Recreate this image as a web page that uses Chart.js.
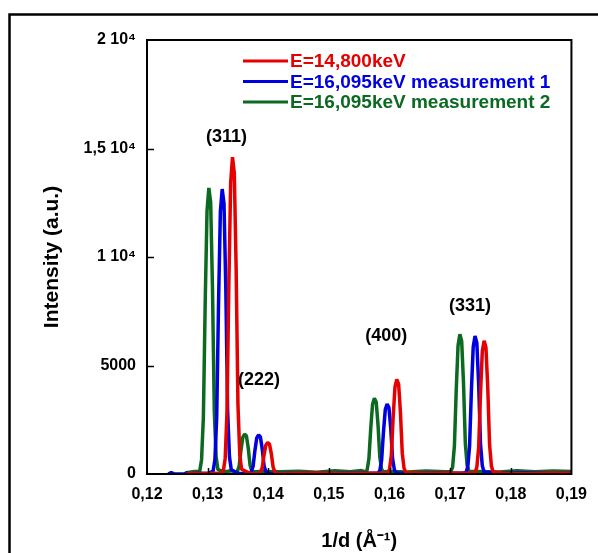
<!DOCTYPE html>
<html>
<head>
<meta charset="utf-8">
<script src="https://cdn.jsdelivr.net/npm/chart.js@4.4.1/dist/chart.umd.min.js"></script>
<style>
    body { margin: 0; background: #ffffff; }
    #box { width: 598px; height: 553px; }
</style>
</head>
<body>
<div id="box"><canvas id="grafico" width="598" height="553"></canvas></div>
<script>
const legendLabels = ["E=14,800keV", "E=16,095keV measurement 1", "E=16,095keV measurement 2"];
const seriesColors = ["#e60000", "#0000e0", "#0b6a20"];

const xTickLabels = ["0,12", "0,13", "0,14", "0,15", "0,16", "0,17", "0,18", "0,19"];
const yTickLabels = ["0", "5000", "1 10\u2074", "1,5 10\u2074", "2 10\u2074"];

const annoLabels = ["(311)", "(222)", "(400)", "(331)"];
const annoX = [0.1331, 0.13847, 0.15947, 0.17326];
const annoY = [15530, 4330, 6336, 7760];

const redX = [0.1265, 0.1272, 0.1290, 0.1310, 0.1320,
    0.1326, 0.1329, 0.1332, 0.1335, 0.1338, 0.1341, 0.1344, 0.1347, 0.1350, 0.1353, 0.1356,
    0.1370, 0.1378,
    0.1384, 0.1387, 0.1390, 0.1393, 0.1396, 0.1399, 0.1402, 0.1405, 0.1408, 0.1411, 0.1414,
    0.1440, 0.1480, 0.1520, 0.1560, 0.1590,
    0.1597, 0.1600, 0.1603, 0.1606, 0.1609, 0.1612, 0.1615, 0.1618, 0.1621, 0.1624, 0.1627,
    0.1660, 0.1700, 0.1730,
    0.1741, 0.1744, 0.1747, 0.1750, 0.1753, 0.1756, 0.1759, 0.1762, 0.1765, 0.1768, 0.1771,
    0.1790, 0.1830, 0.1870, 0.1900];
const redY = [0, 40, 20, 40, 20,
    146, 730, 2920, 8760, 13430, 14600, 13870, 9490, 3210, 880, 220,
    30, 20,
    15, 73, 290, 870, 1330, 1450, 1380, 940, 320, 87, 22,
    30, 50, 20, 40, 30,
    44, 218, 870, 2620, 4010, 4360, 4140, 2830, 960, 260, 65,
    30, 50, 30,
    61, 307, 1230, 3680, 5650, 6140, 5830, 3990, 1350, 370, 92,
    40, 20, 50, 30];

const blueX = [0.1235, 0.1240, 0.1245, 0.1262, 0.1265, 0.1268, 0.1285, 0.1300,
    0.1309, 0.1312, 0.1315, 0.1318, 0.1321, 0.1324, 0.1327, 0.1330, 0.1333, 0.1336, 0.1339,
    0.1350, 0.1362,
    0.1369, 0.1372, 0.1375, 0.1378, 0.1381, 0.1384, 0.1387, 0.1390, 0.1393, 0.1396, 0.1399,
    0.1420, 0.1460, 0.1500, 0.1540, 0.1575,
    0.1581, 0.1584, 0.1587, 0.1590, 0.1593, 0.1596, 0.1599, 0.1602, 0.1605, 0.1608, 0.1611,
    0.1640, 0.1680, 0.1718,
    0.1726, 0.1729, 0.1732, 0.1735, 0.1738, 0.1741, 0.1744, 0.1747, 0.1750, 0.1753, 0.1756,
    0.1780, 0.1820, 0.1860, 0.1900];
const blueY = [0, 70, 0, 0, 70, 0, 30, 20,
    131, 657, 2630, 7880, 12080, 13130, 12470, 8530, 2890, 790, 197,
    30, 20,
    18, 90, 360, 1080, 1660, 1800, 1710, 1170, 396, 108, 27,
    20, 40, 20, 40, 30,
    32, 161, 645, 1935, 2970, 3225, 3060, 2100, 710, 194, 48,
    30, 50, 30,
    64, 318, 1270, 3820, 5850, 6360, 6040, 4130, 1400, 380, 95,
    30, 60, 30, 40];

const greenX = [0.1265, 0.1278,
    0.1287, 0.1290, 0.1293, 0.1296, 0.1299, 0.1302, 0.1305, 0.1308, 0.1311, 0.1314, 0.1317,
    0.1328, 0.1340,
    0.1346, 0.1349, 0.1352, 0.1355, 0.1358, 0.1361, 0.1364, 0.1367, 0.1370, 0.1373, 0.1376,
    0.1390, 0.1420, 0.1450, 0.1480, 0.1510, 0.1535, 0.1554,
    0.1560, 0.1563, 0.1566, 0.1569, 0.1572, 0.1575, 0.1578, 0.1581, 0.1584, 0.1587, 0.1590,
    0.1600, 0.1630, 0.1660, 0.1692,
    0.1701, 0.1704, 0.1707, 0.1710, 0.1713, 0.1716, 0.1719, 0.1722, 0.1725, 0.1728, 0.1731,
    0.1745, 0.1780, 0.1810, 0.1840, 0.1870, 0.1900];
const greenY = [60, 120,
    132, 660, 2640, 7910, 12130, 13180, 12520, 8570, 2900, 790, 200,
    100, 150,
    100, 110, 370, 1100, 1690, 1840, 1750, 1200, 400, 110, 100,
    120, 100, 130, 80, 150, 100, 160,
    100, 175, 700, 2090, 3210, 3490, 3320, 2270, 770, 210, 100,
    120, 90, 140, 100,
    100, 320, 1290, 3860, 5920, 6440, 6120, 4190, 1420, 390, 110,
    120, 90, 150, 100, 140, 110];

const fonte = "'Liberation Sans', Arial, sans-serif";

function pontos(xs, ys) {
    return xs.map((x, i) => ({ x: x, y: ys[i] }));
}

const extras = {
    id: "extras",
    beforeDraw(chart) {
        const ctx = chart.ctx;
        // moldura externa (so esquerda e topo aparecem)
        ctx.save();
        ctx.strokeStyle = "#000";
        ctx.lineWidth = 2.5;
        ctx.beginPath();
        ctx.moveTo(9.5, 553);
        ctx.lineTo(9.5, 14.5);
        ctx.lineTo(598, 14.5);
        ctx.stroke();
        ctx.restore();
    },
    afterDatasetsDraw(chart) {
        const ctx = chart.ctx;
        const area = chart.chartArea;
        const xs = chart.scales.x;
        const ys = chart.scales.y;

        ctx.save();
        ctx.strokeStyle = "#000";
        ctx.lineWidth = 2;
        ctx.strokeRect(area.left, area.top, area.right - area.left, area.bottom - area.top);

        // ticks para dentro
        ctx.lineWidth = 1.5;
        ctx.beginPath();
        xs.ticks.forEach(t => {
            if (t.value <= xs.min || t.value >= xs.max) return;
            const px = Math.round(xs.getPixelForValue(t.value)) + 0.5;
            ctx.moveTo(px, area.bottom);
            ctx.lineTo(px, area.bottom - 6);
        });
        ys.ticks.forEach(t => {
            if (t.value <= ys.min || t.value >= ys.max) return;
            const py = Math.round(ys.getPixelForValue(t.value)) + 0.5;
            ctx.moveTo(area.left, py);
            ctx.lineTo(area.left + 7, py);
        });
        ctx.stroke();

        // legenda
        ctx.textBaseline = "middle";
        ctx.textAlign = "left";
        ctx.font = "bold 19px " + fonte;
        legendLabels.forEach((txt, i) => {
            const y = 61 + i * 20.5;
            ctx.strokeStyle = seriesColors[i];
            ctx.lineWidth = 3;
            ctx.beginPath();
            ctx.moveTo(243, y);
            ctx.lineTo(288, y);
            ctx.stroke();
            ctx.fillStyle = seriesColors[i];
            ctx.fillText(txt, 290, y + 1);
        });

        // indices dos picos
        ctx.fillStyle = "#000";
        ctx.textAlign = "center";
        ctx.font = "bold 18px " + fonte;
        annoLabels.forEach((txt, i) => {
            ctx.fillText(txt, xs.getPixelForValue(annoX[i]), ys.getPixelForValue(annoY[i]));
        });
        ctx.restore();
    }
};

const ctx = document.getElementById("grafico").getContext("2d");

new Chart(ctx, {
    type: "line",
    data: {
        datasets: [
            { label: legendLabels[0], data: pontos(redX, redY), borderColor: seriesColors[0] },
            { label: legendLabels[1], data: pontos(blueX, blueY), borderColor: seriesColors[1] },
            { label: legendLabels[2], data: pontos(greenX, greenY), borderColor: seriesColors[2] }
        ]
    },
    options: {
        responsive: false,
        animation: false,
        events: [],
        elements: {
            point: { radius: 0 },
            line: { borderWidth: 3.5, borderJoinStyle: "bevel", tension: 0, fill: false }
        },
        layout: { padding: { left: 0, top: 40, right: 18, bottom: 0 } },
        plugins: {
            legend: { display: false },
            tooltip: { enabled: false }
        },
        scales: {
            x: {
                type: "linear",
                min: 0.12,
                max: 0.19,
                grid: { display: false, drawTicks: false },
                border: { display: false },
                ticks: {
                    stepSize: 0.01,
                    padding: 11,
                    color: "#000",
                    maxRotation: 0,
                    font: { family: fonte, size: 16, weight: "bold" },
                    callback: (v, i) => xTickLabels[i]
                },
                title: {
                    display: true,
                    text: "1/d (\u00c5\u207b\u00b9)",
                    color: "#000",
                    font: { family: fonte, size: 20, weight: "bold" },
                    padding: { top: 0, bottom: 0 }
                },
                afterFit: s => { s.height = 79; }
            },
            y: {
                min: 0,
                max: 20000,
                grid: { display: false, drawTicks: false },
                border: { display: false },
                ticks: {
                    stepSize: 5000,
                    padding: 11,
                    color: "#000",
                    font: { family: fonte, size: 16, weight: "bold" },
                    callback: (v, i) => yTickLabels[i]
                },
                title: {
                    display: true,
                    text: "Intensity (a.u.)",
                    color: "#000",
                    font: { family: fonte, size: 21, weight: "bold" },
                    padding: { top: 40, bottom: 0 }
                },
                afterFit: s => { s.width = 147; }
            }
        }
    },
    plugins: [extras]
});
</script>
</body>
</html>
